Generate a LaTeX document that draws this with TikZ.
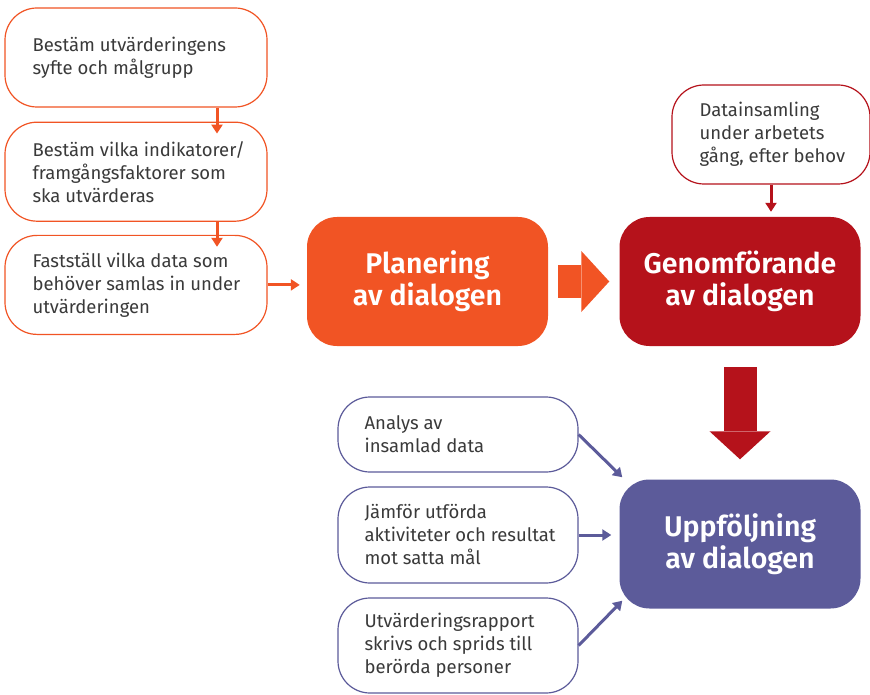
\documentclass[tikz,border=0pt]{standalone}
\usepackage{fontspec}
\setmainfont{Fira Sans}[BoldFont={Fira Sans SemiBold}]
\usetikzlibrary{positioning, arrows.meta}

\definecolor{planorange}{HTML}{F15424}
\definecolor{genred}{HTML}{B5121B}
\definecolor{uppblue}{HTML}{5C5B9A}
\definecolor{textgray}{HTML}{3A3A3A}

\begin{document}
\begin{tikzpicture}[
    x=1pt, y=-1pt,
    stepbox/.style={draw=#1, line width=1.2pt, fill=white, rounded corners=32pt, minimum width=262pt, minimum height=99pt, inner sep=0pt},
    steptext/.style={text=textgray, align=left, font=\fontsize{18.5}{23}\selectfont, inner sep=0pt},
    phase/.style={fill=#1, rounded corners=30pt, minimum width=241pt, minimum height=129pt, inner sep=0pt, text=white, align=center, font=\fontsize{28.5}{32}\selectfont\bfseries},
    arrow/.style={draw=#1, line width=3pt, -{Triangle[length=9pt, width=11pt]}},
    bigarrow/.style={draw=#1, line width=33pt, -{Triangle[length=28pt, width=61pt, line width=0pt]}}
]
\useasboundingbox (0,0) rectangle (870,695);

% Planning steps (left column)
\node[stepbox=planorange] (a1) at (136,57.5) {};
\node[stepbox=planorange, below=14pt of a1] (a2) {};
\node[stepbox=planorange, below=13pt of a2] (a3) {};
\node[steptext, right=28pt of a1.west] (t1) {Bestäm utvärderingens\\syfte och målgrupp};
\node[steptext, right=28pt of a2.west] (t2) {Bestäm vilka indikatorer/\\framgångsfaktorer som\\ska utvärderas};
\node[steptext, right=28pt of a3.west] (t3) {Fastställ vilka data som\\behöver samlas in under\\utvärderingen};

% Phases
\node[phase=planorange] (plan) at (427.5,281.5) {Planering\\av dialogen};
\node[phase=genred] (gen) at (740,281.5) {Genomförande\\av dialogen};
\node[phase=uppblue] (upp) at (740,544) {Uppföljning\\av dialogen};

% Data collection during the work
\node[stepbox=genred, minimum width=198pt] (data) at (771,134.5) {};
\node[steptext, right=28pt of data.west] (td) {Datainsamling\\under arbetets\\gång, efter behov};

% Follow-up steps
\node[stepbox=uppblue, minimum width=240pt, minimum height=75pt] (b1) at (458,434.5) {};
\node[stepbox=uppblue, minimum width=240pt, minimum height=96pt] (b2) at (458,535) {};
\node[stepbox=uppblue, minimum width=240pt, minimum height=95pt] (b3) at (458,645.5) {};
\node[steptext, right=27pt of b1.west] (tb1) {Analys av\\insamlad data};
\node[steptext, right=27pt of b2.west] (tb2) {Jämför utförda\\aktiviteter och resultat\\mot satta mål};
\node[steptext, right=27pt of b3.west] (tb3) {Utvärderingsrapport\\skrivs och sprids till\\berörda personer};

% Arrows
\draw[arrow=planorange, shorten >=-12pt] ([xshift=81pt]a1.south) -- ([xshift=81pt]a2.north);
\draw[arrow=planorange, shorten >=-12pt] ([xshift=81pt]a2.south) -- ([xshift=81pt]a3.north);
\draw[arrow=planorange, shorten >=7pt] (a3.east) -- (a3.east -| plan.west);
\draw[arrow=genred, shorten >=5pt] (data.south) -- (data.south |- gen.north);
\draw[bigarrow=planorange, shorten <=10pt, shorten >=10pt] (plan) -- (gen);
\draw[bigarrow=genred, shorten <=21pt, shorten >=20pt] (gen) -- (upp);
\draw[arrow=uppblue] (b1.east) -- ([shift={(3,-2)}]upp.north west);
\draw[arrow=uppblue, shorten >=8pt] (b2.east) -- (b2.east -| upp.west);
\draw[arrow=uppblue] (b3.east) -- ([shift={(3,-8)}]upp.south west);

\end{tikzpicture}
\end{document}
